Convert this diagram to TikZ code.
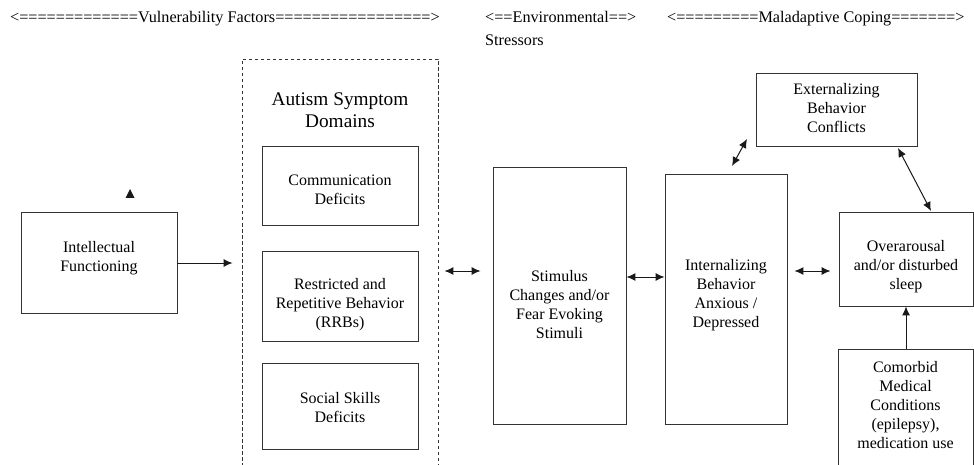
\documentclass[tikz,border=0pt]{standalone}
\usepackage{fontspec}
\setmainfont{Liberation Serif}
\usetikzlibrary{arrows.meta}
\tikzset{
  box/.style={draw=black!80, line width=0.9pt, inner sep=0pt, rectangle},
  dbox/.style={draw=black!80, line width=0.9pt, inner sep=0pt, rectangle, dash pattern=on 3.5pt off 2.5pt},
  txt/.style={align=center, inner sep=0pt, font=\fontsize{16}{19}\selectfont},
  ttl/.style={align=center, inner sep=0pt, font=\fontsize{19.3}{22}\selectfont},
  hdr/.style={inner sep=0pt, anchor=base west, font=\fontsize{16.2}{19}\selectfont},
  con/.style={line width=1pt, black!90},
  tip/.style={-{Latex[length=9pt,width=8pt]}},
  tips/.style={{Latex[length=9pt,width=8pt]}-{Latex[length=9pt,width=8pt]}}
}
\begin{document}
\begin{tikzpicture}[x=1pt,y=-1pt]
\useasboundingbox (0,0) rectangle (974,465);
\clip (0,0) rectangle (974,465);
\fill[white] (0,0) rectangle (974,465);

% headers
\node[hdr] (h1) at (10,23) {<=============Vulnerability Factors=================>};
\node[hdr] (h2) at (485,23) {<==Environmental==>};
\node[hdr] (h2b) at (485,46) {Stressors};
\node[hdr] (h3) at (667,23) {<=========Maladaptive Coping=======>};

% boxes
\node[box, minimum width=156, minimum height=101] (intel) at (99,262.5) {};
\node[txt] (intelT) at (99,258) {Intellectual\\Functioning};

\node[dbox, minimum width=196, minimum height=422] (dash) at (340,270) {};
\node[ttl] (dashT) at (340,110) {Autism Symptom\\Domains};

\node[box, minimum width=156, minimum height=79] (comm) at (340,185.5) {};
\node[txt] (commT) at (340,190) {Communication\\Deficits};

\node[box, minimum width=156, minimum height=90] (rrb) at (340,296) {};
\node[txt] (rrbT) at (340,305) {Restricted and\\Repetitive Behavior\\(RRBs)};

\node[box, minimum width=156, minimum height=86] (soc) at (340,406) {};
\node[txt] (socT) at (340,408) {Social Skills\\Deficits};

\node[box, minimum width=133, minimum height=257] (stim) at (559.5,295.5) {};
\node[txt] (stimT) at (559.5,305) {Stimulus\\Changes and/or\\Fear Evoking\\Stimuli};

\node[box, minimum width=122, minimum height=250] (intern) at (726,299) {};
\node[txt] (internT) at (726,295) {Internalizing\\Behavior\\Anxious /\\Depressed};

\node[box, minimum width=161, minimum height=73] (ext) at (836.5,109.5) {};
\node[txt] (extT) at (836.5,108) {Externalizing\\Behavior\\Conflicts};

\node[box, minimum width=134, minimum height=94] (over) at (906,259) {};
\node[txt] (overT) at (906,267) {Overarousal\\and/or disturbed\\sleep};

\node[box, minimum width=135, minimum height=151] (comor) at (905.5,424.5) {};
\node[txt] (comorT) at (905.5,405) {Comorbid\\Medical\\Conditions\\(epilepsy),\\medication use};

% stray arrowhead
\fill[black!90] (125.5,198) -- (130,189) -- (134.5,198) -- cycle;

% connectors
\coordinate (ie1) at (732,166);
\coordinate (ie2) at (747,139);
\coordinate (eo1) at (898,148);
\coordinate (eo2) at (931,211);

\draw[con,tip,shorten >=9pt] (intel.east |- 0,263) -- (dash.west |- 0,263);
\draw[con,tips,shorten <=6pt,shorten >=12pt] (dash.east |- 0,271) -- (stim.west |- 0,271);
\draw[con,tips] (stim.east |- 0,277) -- (intern.west |- 0,277);
\draw[con,tips,shorten <=7pt,shorten >=8pt] (intern.east |- 0,271) -- (over.west |- 0,271);
\draw[con,tips] (ie1) -- (ie2);
\draw[con,tips] (eo1) -- (eo2);
\draw[con,tip] (comor.north -| 906,0) -- (over.south -| 906,0);
\end{tikzpicture}
\end{document}
